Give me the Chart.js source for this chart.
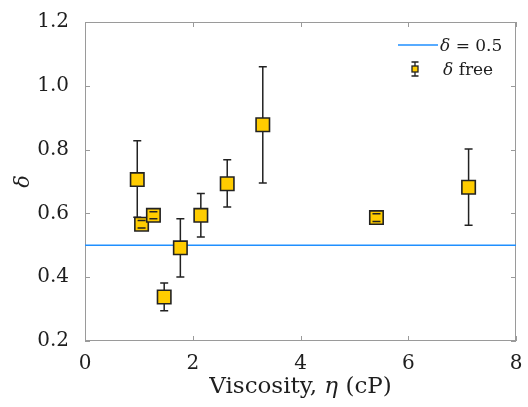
<!DOCTYPE html>
<html>
<head>
<meta charset="utf-8">
<script src="https://cdn.jsdelivr.net/npm/chart.js@4"></script>
<style>
  html, body { margin: 0; padding: 0; background: #fff; }
  #wrap { width: 528px; height: 407px; }
</style>
</head>
<body>
<div id="wrap"><canvas id="chart"></canvas></div>
<script>
// measured points: viscosity (cP) vs fitted delta with error range
const viscosity = [0.97, 1.05, 1.27, 1.47, 1.77, 2.15, 2.64, 3.30, 5.41, 7.12];
const delta     = [0.706, 0.566, 0.594, 0.338, 0.492, 0.594, 0.693, 0.878, 0.587, 0.682];
const deltaHigh = [0.828, 0.578, 0.605, 0.382, 0.583, 0.662, 0.768, 1.060, 0.599, 0.802];
const deltaLow  = [0.588, 0.554, 0.583, 0.295, 0.401, 0.526, 0.620, 0.695, 0.575, 0.563];

// reference line delta = 0.5
const refX = [0, 8];
const refDelta = 0.5;

const xTicks = [0, 2, 4, 6, 8];
const yTicks = [0.2, 0.4, 0.6, 0.8, 1.0, 1.2];

const FONT = '"DejaVu Serif", serif';
const TEXT = '#1e1e1e';
const AXIS = '#9a9a9a';
const BLUE = '#1f8fff';
const GOLD = '#ffcc00';

const points = viscosity.map((v, i) => ({ x: v, y: delta[i] }));
const refLine = refX.map(v => ({ x: v, y: refDelta }));

function eachBar(chart, fn) {
    const xs = chart.scales.x, ys = chart.scales.y;
    viscosity.forEach((v, i) => {
        fn(xs.getPixelForValue(v), ys.getPixelForValue(deltaHigh[i]), ys.getPixelForValue(deltaLow[i]));
    });
}

// error bars: stems under the markers, caps over them
const errorBars = {
    id: 'errorBars',
    beforeDatasetDraw(chart, args) {
        if (args.index !== 0) return;
        const ctx = chart.ctx;
        ctx.save();
        ctx.strokeStyle = '#222';
        ctx.lineWidth = 1.5;
        ctx.beginPath();
        eachBar(chart, (px, top, bot) => {
            ctx.moveTo(px, top); ctx.lineTo(px, bot);
        });
        ctx.stroke();
        ctx.restore();
    },
    afterDatasetDraw(chart, args) {
        if (args.index !== 0) return;
        const ctx = chart.ctx;
        ctx.save();
        ctx.strokeStyle = '#222';
        ctx.lineWidth = 1.5;
        ctx.beginPath();
        eachBar(chart, (px, top, bot) => {
            ctx.moveTo(px - 4, top); ctx.lineTo(px + 4, top);
            ctx.moveTo(px - 4, bot); ctx.lineTo(px + 4, bot);
        });
        ctx.stroke();
        ctx.restore();
    }
};

// box, inward ticks, axis titles and legend
const frame = {
    id: 'frame',
    beforeDatasetsDraw(chart) {
        const ctx = chart.ctx;
        const a = chart.chartArea;
        const xs = chart.scales.x, ys = chart.scales.y;
        ctx.save();
        ctx.strokeStyle = AXIS;
        ctx.lineWidth = 1;
        ctx.strokeRect(a.left + 0.5, a.top + 0.5, a.right - a.left - 1, a.bottom - a.top - 1);
        ctx.beginPath();
        xTicks.forEach(t => {
            const px = Math.round(xs.getPixelForValue(t)) + 0.5;
            ctx.moveTo(px, a.bottom); ctx.lineTo(px, a.bottom - 5);
            ctx.moveTo(px, a.top); ctx.lineTo(px, a.top + 5);
        });
        yTicks.forEach(t => {
            const py = Math.round(ys.getPixelForValue(t)) + 0.5;
            ctx.moveTo(a.left, py); ctx.lineTo(a.left + 5, py);
            ctx.moveTo(a.right, py); ctx.lineTo(a.right - 5, py);
        });
        ctx.stroke();
        ctx.restore();
    },
    afterDraw(chart) {
        const ctx = chart.ctx;
        const a = chart.chartArea;
        ctx.save();
        ctx.fillStyle = TEXT;
        ctx.textBaseline = 'alphabetic';
        ctx.textAlign = 'left';

        const drawMixed = (segs, x, y) => {
            segs.forEach(s => {
                ctx.font = s[1];
                ctx.fillText(s[0], x, y);
                x += ctx.measureText(s[0]).width;
            });
        };

        // x title with italic eta
        const parts = [
            ['Viscosity, ', '23px ' + FONT],
            ['η', 'italic 23px ' + FONT],
            [' (cP)', '23px ' + FONT]
        ];
        let total = 0;
        parts.forEach(p => { ctx.font = p[1]; total += ctx.measureText(p[0]).width; });
        drawMixed(parts, (a.left + a.right) / 2 - total / 2, 393);

        // y title
        ctx.save();
        ctx.translate(29, (a.top + a.bottom) / 2);
        ctx.rotate(-Math.PI / 2);
        ctx.font = 'italic 21px ' + FONT;
        ctx.textAlign = 'center';
        ctx.fillText('δ', 0, 0);
        ctx.restore();

        // legend
        const lx = 398, ly1 = 45, ly2 = 69;
        ctx.strokeStyle = BLUE;
        ctx.lineWidth = 1.5;
        ctx.beginPath();
        ctx.moveTo(lx, ly1); ctx.lineTo(lx + 40, ly1);
        ctx.stroke();
        ctx.strokeStyle = '#222';
        ctx.lineWidth = 1.3;
        const ex = lx + 17;
        ctx.beginPath();
        ctx.moveTo(ex, ly2 - 7); ctx.lineTo(ex, ly2 + 7);
        ctx.moveTo(ex - 3.5, ly2 - 7); ctx.lineTo(ex + 3.5, ly2 - 7);
        ctx.moveTo(ex - 3.5, ly2 + 7); ctx.lineTo(ex + 3.5, ly2 + 7);
        ctx.stroke();
        ctx.fillStyle = GOLD;
        ctx.fillRect(ex - 3, ly2 - 3, 6, 6);
        ctx.strokeRect(ex - 3, ly2 - 3, 6, 6);

        ctx.fillStyle = TEXT;
        drawMixed([['δ', 'italic 17px ' + FONT], [' = 0.5', '17px ' + FONT]], lx + 42, ly1 + 6);
        drawMixed([['δ', 'italic 17px ' + FONT], [' free', '17px ' + FONT]], lx + 45, ly2 + 6);
        ctx.restore();
    }
};

new Chart(document.getElementById('chart'), {
    type: 'scatter',
    data: {
        datasets: [{
            label: 'δ free',
            data: points,
            pointStyle: 'rect',
            pointRadius: 9.5,
            pointHoverRadius: 9.5,
            backgroundColor: GOLD,
            borderColor: '#222',
            borderWidth: 1.6
        }, {
            label: 'δ = 0.5',
            type: 'line',
            data: refLine,
            borderColor: BLUE,
            borderWidth: 1.5,
            pointRadius: 0,
            fill: false
        }]
    },
    options: {
        responsive: true,
        maintainAspectRatio: false,
        animation: false,
        layout: { padding: { top: 22, right: 12, left: 0, bottom: 0 } },
        plugins: {
            legend: { display: false },
            tooltip: { enabled: false }
        },
        scales: {
            x: {
                type: 'linear',
                min: 0, max: 8,
                afterBuildTicks: s => { s.ticks = xTicks.map(v => ({ value: v })); },
                afterFit: s => { s.height = 66; },
                grid: { display: false },
                border: { display: false },
                ticks: {
                    color: TEXT,
                    font: { family: FONT, size: 20 },
                    padding: 3,
                    maxRotation: 0,
                    callback: v => v.toFixed(0)
                }
            },
            y: {
                min: 0.2, max: 1.2,
                afterBuildTicks: s => { s.ticks = yTicks.map(v => ({ value: v })); },
                afterFit: s => { s.width = 85; },
                grid: { display: false },
                border: { display: false },
                ticks: {
                    color: TEXT,
                    font: { family: FONT, size: 20 },
                    padding: 8,
                    callback: v => v.toFixed(1)
                }
            }
        }
    },
    plugins: [errorBars, frame]
});
</script>
</body>
</html>
